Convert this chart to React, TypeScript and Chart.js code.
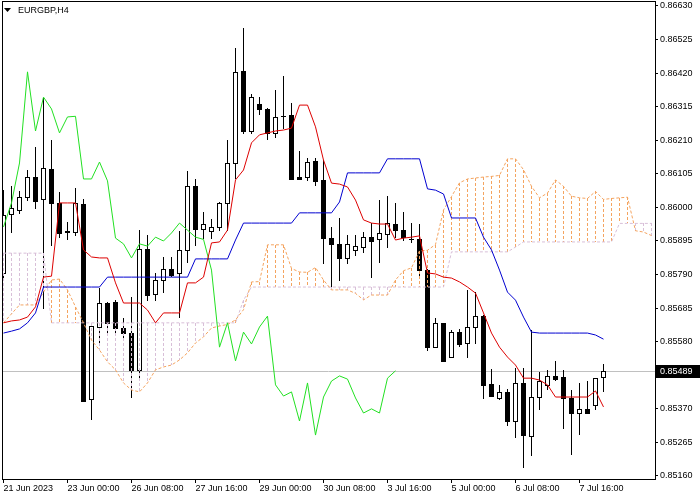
import React, { useEffect, useRef } from "react";
import { Chart, registerables } from "chart.js";

Chart.register(...registerables);

const SYMBOL_LABEL = "EURGBP,H4";
const LAST_PRICE = 0.85489;

const X_TICK_BARS = [0, 8, 16, 24, 32, 40, 48, 56, 64, 72];
const X_TICK_LABELS = [
  "21 Jun 2023",
  "23 Jun 00:00",
  "26 Jun 08:00",
  "27 Jun 16:00",
  "29 Jun 00:00",
  "30 Jun 08:00",
  "3 Jul 16:00",
  "5 Jul 00:00",
  "6 Jul 08:00",
  "7 Jul 16:00",
];
const Y_TICKS = [
  0.8516, 0.85265, 0.8537, 0.85475, 0.8558, 0.85685, 0.8579, 0.85895, 0.86,
  0.86105, 0.8621, 0.86315, 0.8642, 0.86525, 0.8663,
];
const Y_MIN = 0.851506;
const Y_MAX = 0.866456;
const X_MIN = -0.1875;
const X_MAX = 81.4375;
const CHIKOU_SHIFT = 26;

const OPEN = [
  0.85795, 0.85979, 0.85992, 0.86033, 0.86095, 0.86026, 0.8612, 0.86014, 0.85926, 0.85923,
  0.86011, 0.85401, 0.85626, 0.85701, 0.85704, 0.85623, 0.85607, 0.85492, 0.8587, 0.85729,
  0.85773, 0.85807, 0.85795, 0.85867, 0.86067, 0.85932, 0.85926, 0.85939, 0.86014, 0.86139,
  0.86427, 0.86239, 0.86324, 0.86308, 0.86233, 0.86286, 0.86289, 0.86095, 0.86095, 0.86145,
  0.86086, 0.85904, 0.85886, 0.85842, 0.85867, 0.85876, 0.85907, 0.85901, 0.85917, 0.85948,
  0.85929, 0.85901, 0.85901, 0.85804, 0.85563, 0.85639, 0.85532, 0.8561, 0.85576, 0.85626,
  0.8566, 0.85448, 0.85404, 0.85423, 0.85332, 0.85451, 0.85285, 0.85407, 0.85445, 0.85473,
  0.8547, 0.85404, 0.85357, 0.8537, 0.85382, 0.8547,
];
const HIGH = [
  0.86054, 0.86067, 0.86051, 0.86117, 0.86189, 0.86342, 0.86211, 0.86048, 0.85954, 0.86061,
  0.86026, 0.85629, 0.85748, 0.85704, 0.8571, 0.85654, 0.8572, 0.85929, 0.85914, 0.85795,
  0.85845, 0.85845, 0.85926, 0.86114, 0.86089, 0.85986, 0.85964, 0.86017, 0.86211, 0.86499,
  0.86561, 0.86355, 0.86345, 0.86311, 0.86367, 0.86411, 0.86327, 0.86176, 0.86155, 0.86155,
  0.86148, 0.85939, 0.85967, 0.85914, 0.85914, 0.85923, 0.85951, 0.86023, 0.86036, 0.86014,
  0.85986, 0.85951, 0.85948, 0.85806, 0.85654, 0.8564, 0.85617, 0.8562, 0.85742, 0.85735,
  0.85664, 0.85495, 0.85445, 0.85432, 0.85498, 0.85498, 0.85617, 0.85485, 0.85492, 0.8552,
  0.85492, 0.85429, 0.85451, 0.85457, 0.85466, 0.8551,
];
const LOW = [
  0.85773, 0.85923, 0.85983, 0.86023, 0.85998, 0.85685, 0.85882, 0.85907, 0.85901, 0.85914,
  0.85393, 0.85338, 0.85576, 0.85601, 0.8561, 0.85595, 0.85407, 0.8546, 0.8571, 0.8571,
  0.85735, 0.85785, 0.85657, 0.85829, 0.85882, 0.85904, 0.85904, 0.85929, 0.85929, 0.86092,
  0.86233, 0.86233, 0.86292, 0.86214, 0.8622, 0.86248, 0.86089, 0.86088, 0.86086, 0.8607,
  0.85826, 0.85751, 0.85773, 0.85826, 0.85851, 0.85861, 0.85782, 0.85829, 0.85876, 0.85907,
  0.85898, 0.85892, 0.85789, 0.85554, 0.85562, 0.85519, 0.85531, 0.85567, 0.85532, 0.85576,
  0.85404, 0.85409, 0.85401, 0.8532, 0.85282, 0.85188, 0.85226, 0.8537, 0.85432, 0.8546,
  0.8531, 0.85229, 0.85291, 0.85356, 0.8537, 0.85426,
];
const CLOSE = [
  0.85976, 0.85998, 0.86033, 0.86095, 0.8602, 0.86123, 0.86014, 0.8592, 0.85923, 0.86014,
  0.85395, 0.85629, 0.85701, 0.85639, 0.85623, 0.85607, 0.85492, 0.8587, 0.85726, 0.85773,
  0.85807, 0.85789, 0.85867, 0.86067, 0.85932, 0.85948, 0.85939, 0.86014, 0.86139, 0.86424,
  0.86239, 0.86345, 0.86308, 0.86233, 0.86283, 0.86285, 0.86089, 0.86089, 0.86142, 0.86083,
  0.85904, 0.85886, 0.85842, 0.85886, 0.85879, 0.85907, 0.85895, 0.8592, 0.85951, 0.85929,
  0.85907, 0.859, 0.85804, 0.85563, 0.85639, 0.8552, 0.8561, 0.85573, 0.85626, 0.8566,
  0.85445, 0.8541, 0.85423, 0.85332, 0.85451, 0.85288, 0.85407, 0.85457, 0.85473, 0.85463,
  0.85404, 0.85357, 0.8537, 0.85357, 0.85466, 0.85489,
];

const TENKAN = [
  0.85639, 0.85645, 0.85648, 0.85657, 0.85689, 0.85782, 0.85785, 0.86014, 0.86014, 0.86014,
  0.85867, 0.85845, 0.85842, 0.85842, 0.85764, 0.85701, 0.85701, 0.85701, 0.85679, 0.85639,
  0.8567, 0.8567, 0.8567, 0.85764, 0.85764, 0.85782, 0.85889, 0.85892, 0.85929, 0.86086,
  0.86117, 0.86202, 0.86227, 0.86233, 0.86239, 0.86242, 0.86248, 0.8632, 0.8632, 0.86252,
  0.86148, 0.86076, 0.86073, 0.86064, 0.86023, 0.85961, 0.85951, 0.85948, 0.85948, 0.85898,
  0.85904, 0.85907, 0.85911, 0.85795, 0.85792, 0.85782, 0.85779, 0.85767, 0.85751, 0.85732,
  0.8567, 0.85607, 0.85563, 0.85532, 0.85507, 0.85466, 0.85466, 0.8546, 0.85445, 0.85407,
  0.85407, 0.85407, 0.85407, 0.85407, 0.85426, 0.85376,
];
const KIJUN = [
  0.85607, 0.85613, 0.8562, 0.85639, 0.8567, 0.85751, 0.85751, 0.85751, 0.85751, 0.85751,
  0.85751, 0.85751, 0.85751, 0.85782, 0.85782, 0.85782, 0.85782, 0.85782, 0.85782, 0.85782,
  0.85782, 0.85782, 0.85782, 0.85782, 0.85839, 0.85839, 0.85839, 0.85839, 0.85839, 0.85898,
  0.85951, 0.85951, 0.85951, 0.85951, 0.85951, 0.85951, 0.85951, 0.85983, 0.85983, 0.85983,
  0.85983, 0.85983, 0.86017, 0.86108, 0.86108, 0.86108, 0.86108, 0.86108, 0.86152, 0.86152,
  0.86152, 0.86152, 0.86152, 0.86058, 0.86054, 0.86042, 0.85967, 0.85967, 0.85967, 0.85967,
  0.85907, 0.85867, 0.85804, 0.85735, 0.8571, 0.85657, 0.8561, 0.85607, 0.85607, 0.85607,
  0.85607, 0.85607, 0.85607, 0.85607, 0.85601, 0.85588,
];
const SENKOU_A = [
  0.85639, 0.85667, 0.85695, 0.85695, 0.85695, 0.85735, 0.85773, 0.85776, 0.85742, 0.85689,
  0.85639, 0.85585, 0.85554, 0.85517, 0.85492, 0.85451, 0.85429, 0.85423, 0.85451, 0.85492,
  0.85501, 0.85507, 0.85523, 0.85545, 0.85576, 0.85595, 0.85623, 0.85629, 0.85634, 0.85648,
  0.8568, 0.85767, 0.85768, 0.85883, 0.85883, 0.85883, 0.85809, 0.85798, 0.85797, 0.85812,
  0.85773, 0.85742, 0.85742, 0.85742, 0.85731, 0.85711, 0.85726, 0.85726, 0.85726, 0.85773,
  0.85802, 0.85811, 0.85864, 0.85866, 0.85884, 0.85992, 0.86034, 0.86077, 0.86089, 0.86092,
  0.86095, 0.86097, 0.861, 0.86152, 0.86152, 0.86118, 0.86066, 0.8603, 0.86045, 0.86086,
  0.86066, 0.86035, 0.8603, 0.86028, 0.8605, 0.86025, 0.86028, 0.8603, 0.86032, 0.85927,
  0.85923, 0.85912,
];
const SENKOU_B = [
  0.85857, 0.85857, 0.85857, 0.85857, 0.85857, 0.85857, 0.85639, 0.85639, 0.85639, 0.85639,
  0.85639, 0.85639, 0.85639, 0.85639, 0.85639, 0.85639, 0.85639, 0.85639, 0.85639, 0.85639,
  0.85639, 0.85639, 0.85639, 0.85639, 0.85639, 0.85639, 0.85639, 0.85639, 0.85639, 0.85639,
  0.8571, 0.85751, 0.85751, 0.85751, 0.85751, 0.85751, 0.85751, 0.85751, 0.85751, 0.85751,
  0.85751, 0.85751, 0.85751, 0.85751, 0.85751, 0.85751, 0.85751, 0.85751, 0.85751, 0.85751,
  0.85751, 0.85751, 0.85751, 0.85751, 0.85751, 0.85751, 0.85861, 0.85861, 0.85861, 0.85861,
  0.85861, 0.85861, 0.85861, 0.85861, 0.85876, 0.85892, 0.85892, 0.85892, 0.85892, 0.85892,
  0.85892, 0.85892, 0.85892, 0.85892, 0.85892, 0.85892, 0.85892, 0.8595, 0.8595, 0.8595,
  0.8595, 0.8595,
];

const SANDY = "#f4a460";
const THISTLE = "#d8bfd8";
const FONT = "'Liberation Sans', Arial, sans-serif";

const toPoints = (arr: number[]) => arr.map((v, i) => ({ x: i, y: v }));

const ichimokuPlugin = {
  id: "ichimokuCandles",
  beforeDatasetsDraw(chart: any) {
    const { ctx, chartArea: a } = chart;
    const x = chart.scales.x;
    const y = chart.scales.y;
    ctx.save();
    ctx.beginPath();
    ctx.rect(a.left, a.top, a.right - a.left, a.bottom - a.top);
    ctx.clip();

    const py = Math.round(y.getPixelForValue(LAST_PRICE)) + 0.5;
    ctx.strokeStyle = "#c0c0c0";
    ctx.lineWidth = 1;
    ctx.beginPath();
    ctx.moveTo(a.left, py);
    ctx.lineTo(a.right, py);
    ctx.stroke();

    for (let i = 0; i < OPEN.length; i++) {
      const cx = Math.floor(x.getPixelForValue(i)) + 0.5;
      const yh = Math.round(y.getPixelForValue(HIGH[i]));
      const yl = Math.round(y.getPixelForValue(LOW[i]));
      const yo = Math.round(y.getPixelForValue(OPEN[i]));
      const yc = Math.round(y.getPixelForValue(CLOSE[i]));
      ctx.strokeStyle = "#000";
      ctx.beginPath();
      ctx.moveTo(cx, yh);
      ctx.lineTo(cx, yl + 1);
      ctx.stroke();
      const top = Math.min(yo, yc);
      const bot = Math.max(yo, yc);
      const left = cx - 2.5;
      if (CLOSE[i] > OPEN[i]) {
        ctx.fillStyle = "#fff";
        ctx.fillRect(left, top, 5, bot - top + 1);
        ctx.strokeRect(left + 0.5, top + 0.5, 4, bot - top);
      } else {
        ctx.fillStyle = "#000";
        ctx.fillRect(left, top, 5, bot - top + 1);
      }
    }

    ctx.setLineDash([3, 2]);
    ctx.lineWidth = 1;
    for (let i = 0; i < SENKOU_A.length; i++) {
      const cx = Math.floor(x.getPixelForValue(i)) + 0.5;
      const ya = Math.round(y.getPixelForValue(SENKOU_A[i]));
      const yb = Math.round(y.getPixelForValue(SENKOU_B[i]));
      ctx.strokeStyle = SENKOU_A[i] >= SENKOU_B[i] ? SANDY : THISTLE;
      ctx.beginPath();
      ctx.moveTo(cx, Math.min(ya, yb));
      ctx.lineTo(cx, Math.max(ya, yb));
      ctx.stroke();
    }
    ctx.restore();
  },
  afterDraw(chart: any) {
    const { ctx, chartArea: a } = chart;
    const y = chart.scales.y;
    ctx.save();
    ctx.strokeStyle = "#000";
    ctx.lineWidth = 1;
    ctx.strokeRect(a.left + 0.5, a.top + 0.5, a.right - a.left, a.bottom - a.top);

    ctx.fillStyle = "#000";
    ctx.beginPath();
    ctx.moveTo(4, 8);
    ctx.lineTo(11, 8);
    ctx.lineTo(7.5, 12);
    ctx.closePath();
    ctx.fill();
    ctx.font = `9px ${FONT}`;
    ctx.textBaseline = "middle";
    ctx.textAlign = "left";
    ctx.fillText(SYMBOL_LABEL, 18, 10.5);

    const py = Math.round(y.getPixelForValue(LAST_PRICE));
    ctx.fillStyle = "#000";
    ctx.fillRect(a.right + 1, py - 6, 44, 13);
    ctx.fillStyle = "#fff";
    ctx.fillText(LAST_PRICE.toFixed(5), a.right + 5, py + 0.5);
    ctx.restore();
  },
};

export default function App() {
  const canvasRef = useRef<HTMLCanvasElement | null>(null);

  useEffect(() => {
    if (!canvasRef.current) return;
    const lineDs = (label: string, data: any[], color: string, dash: number[] = []) => ({
      label,
      data,
      borderColor: color,
      borderWidth: 1,
      borderDash: dash,
      pointRadius: 0,
      tension: 0,
      fill: false,
    });
    const chart = new Chart(canvasRef.current, {
      type: "line",
      data: {
        datasets: [
          lineDs("Tenkan-sen", toPoints(TENKAN), "#dd0000"),
          lineDs("Kijun-sen", toPoints(KIJUN), "#0000d0"),
          lineDs(
            "Chikou Span",
            CLOSE.slice(CHIKOU_SHIFT).map((v, i) => ({ x: i, y: v })),
            "#22e022"
          ),
          lineDs("Senkou Span A", toPoints(SENKOU_A), SANDY, [3, 2]),
          lineDs("Senkou Span B", toPoints(SENKOU_B), THISTLE, [3, 2]),
        ],
      },
      options: {
        responsive: false,
        devicePixelRatio: 1,
        animation: false,
        events: [],
        layout: { padding: { left: 2, top: 1, right: 0, bottom: 0 } },
        plugins: { legend: { display: false }, tooltip: { enabled: false } },
        scales: {
          x: {
            type: "linear",
            min: X_MIN,
            max: X_MAX,
            afterBuildTicks: (scale: any) => {
              scale.ticks = X_TICK_BARS.map((v) => ({ value: v }));
            },
            afterFit: (scale: any) => {
              scale.height = 21;
              scale.paddingLeft = 0;
              scale.paddingRight = 0;
            },
            ticks: {
              autoSkip: false,
              maxRotation: 0,
              minRotation: 0,
              align: "start",
              padding: 0,
              color: "#000",
              font: { family: FONT, size: 9 },
              callback: (_v: any, i: number) => X_TICK_LABELS[i],
            },
            grid: { drawOnChartArea: false, drawTicks: true, tickLength: 4, color: "#000" },
            border: { display: true, color: "#000" },
          },
          y: {
            type: "linear",
            position: "right",
            min: Y_MIN,
            max: Y_MAX,
            afterBuildTicks: (scale: any) => {
              scale.ticks = Y_TICKS.map((v) => ({ value: v }));
            },
            afterFit: (scale: any) => {
              scale.width = 45;
              scale.paddingTop = 0;
              scale.paddingBottom = 0;
            },
            ticks: {
              padding: 2,
              color: "#000",
              font: { family: FONT, size: 9 },
              callback: (v: any) => Number(v).toFixed(5),
            },
            grid: { drawOnChartArea: false, drawTicks: true, tickLength: 3, color: "#000" },
            border: { display: true, color: "#000" },
          },
        },
      },
      plugins: [ichimokuPlugin],
    } as any);
    return () => chart.destroy();
  }, []);

  return (
    <div style={{ position: "absolute", left: 0, top: 0, width: 700, height: 500, background: "#fff" }}>
      <canvas ref={canvasRef} width={700} height={500} style={{ display: "block" }} />
    </div>
  );
}
